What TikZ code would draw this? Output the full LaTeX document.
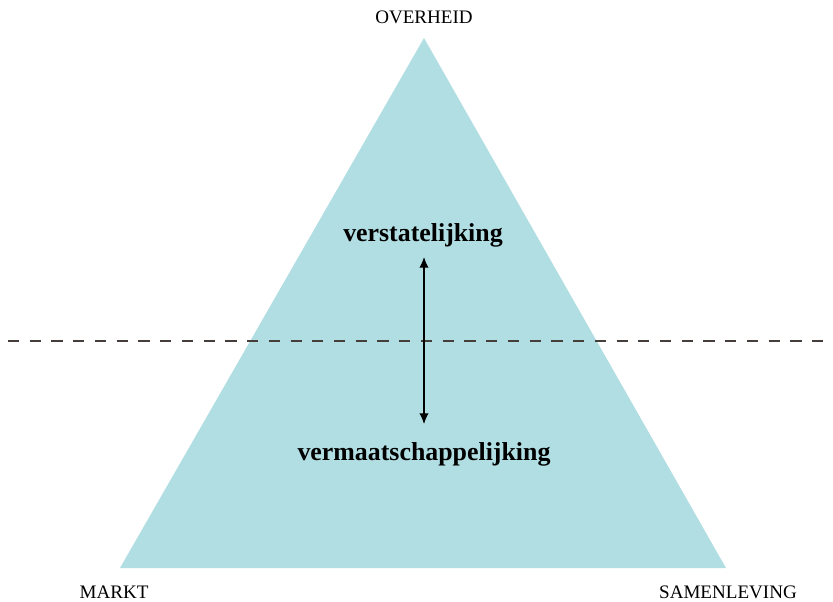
\documentclass[tikz,border=0pt]{standalone}
\usepackage{fontspec}
\setmainfont{Liberation Serif}
\usetikzlibrary{arrows.meta,positioning}

\begin{document}
\begin{tikzpicture}[x=0.75pt, y=-0.75pt, every node/.style={font=\normalsize}]
        \definecolor{pyrblue}{RGB}{176,222,227}
        \definecolor{dashgray}{RGB}{70,62,58}
        \tikzset{corner/.style={font=\fontsize{14.3}{16}\selectfont},
                 inner/.style={font=\fontsize{19.4}{22}\selectfont\bfseries}}
        \useasboundingbox (0,0) rectangle (833,601);

        % Triangle corners
        \coordinate (top) at (424,38);
        \coordinate (left) at (120,568);
        \coordinate (right) at (726,568);
        \fill[pyrblue] (top) -- (left) -- (right) -- cycle;

        % Dashed divider
        \coordinate (dashL) at (8,341);
        \coordinate (dashR) at (827,341);
        \draw[dashgray, line width=0.9pt, dash pattern=on 8.4pt off 7.9pt] (dashL) -- (dashR);

        % Corner labels
        \node[corner] (overheid) at (424,17) {OVERHEID};
        \node[corner] (markt) at (114,592) {MARKT};
        \node[corner] (samenleving) at (728,592) {SAMENLEVING};

        % Inner labels
        \node[inner] (stat) at (423,235) {verstatelijking};
        \node[inner] (maat) at (424,454) {vermaatschappelijking};

        % Arrow
        \coordinate (arrTop) at (424,257);
        \coordinate (arrBot) at (424,424);
        \draw[{Latex[length=8pt,width=7pt]}-{Latex[length=8pt,width=7pt]}, line width=0.9pt] (arrTop) -- (arrBot);
\end{tikzpicture}
\end{document}
